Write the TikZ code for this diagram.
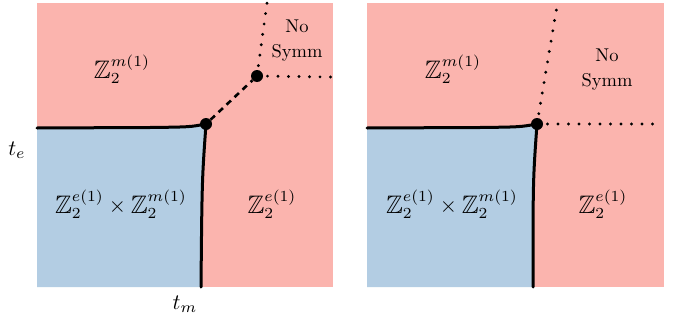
\documentclass[tikz,border=0pt]{standalone}
\usepackage{amsmath,amssymb}
\definecolor{pinkreg}{HTML}{FBB4AE}
\definecolor{bluereg}{HTML}{B3CDE3}
\newcommand{\bigZ}{\mathord{\raisebox{-0.3pt}{\scalebox{1.15}{$\mathbb{Z}$}}}}
\tikzset{
  phase/.style={line width=3pt,line cap=round},
  dotline/.style={line width=3.2pt,line cap=round,dash pattern=on 0pt off 10.5pt},
  dashline/.style={line width=2.6pt,dash pattern=on 6pt off 5pt},
  crit/.style={circle,fill=black,inner sep=0pt,minimum size=12pt},
  mlabel/.style={scale=2.2,inner sep=0pt},
  tlabel/.style={scale=1.85,align=center,inner sep=0pt},
}
\begin{document}
\begin{tikzpicture}[x=1pt,y=-1pt]
\useasboundingbox (0,0) rectangle (677,324);
% ---------- left panel ----------
\fill[pinkreg] (37,3) rectangle (333,287);
\fill[bluereg] (37,128) -- (150,127.5) .. controls (190,127) .. (205,124) .. controls (202,180) .. (201,287) -- (37,287) -- cycle;
\node[crit] (L1) at (206,124) {};
\node[crit] (L2) at (257,76) {};
\coordinate (Lw) at (37,128);
\coordinate (Ls) at (201,287);
\coordinate (Ln) at (267,3);
\coordinate (Le) at (331,77);
\draw[phase] (Lw) -- (150,127.5) .. controls (190,127) .. (L1.center);
\draw[phase] (L1.center) .. controls (202,180) .. (Ls);
\draw[dashline] (L1) -- (L2);
\draw[dotline] (L2.center) -- (Ln);
\draw[dotline] (L2.center) -- (Le);
\node[mlabel] (Lm) at (122,69) {$\bigZ_2^{m(1)}$};
\node[mlabel] (Lem) at (121,204) {$\bigZ_2^{e(1)}\times\bigZ_2^{m(1)}$};
\node[mlabel] (Le1) at (272,204) {$\bigZ_2^{e(1)}$};
\node[tlabel] (Lno) at (297,41) {No\\[1.5pt]Symm};
\node[mlabel] (te) at (17,150) {$t_e$};
\node[mlabel] (tm) at (185,304) {$t_m$};
% ---------- right panel ----------
\fill[pinkreg] (367,3) rectangle (664,287);
\fill[bluereg] (367,128) -- (480,127.5) .. controls (520,127) .. (536,124) .. controls (533,180) .. (533,287) -- (367,287) -- cycle;
\node[crit] (R1) at (537,124) {};
\coordinate (Rw) at (367,128);
\coordinate (Rs) at (533,287);
\coordinate (Rn) at (557,6);
\coordinate (Re) at (658,124);
\draw[phase] (Rw) -- (480,127.5) .. controls (520,127) .. (R1.center);
\draw[phase] (R1.center) .. controls (533,180) .. (Rs);
\draw[dotline] (R1.center) -- (Rn);
\draw[dotline] (R1.center) -- (Re);
\node[mlabel] (Rm) at (453,69) {$\bigZ_2^{m(1)}$};
\node[mlabel] (Rem) at (452,204) {$\bigZ_2^{e(1)}\times\bigZ_2^{m(1)}$};
\node[mlabel] (Re1) at (603,204) {$\bigZ_2^{e(1)}$};
\node[tlabel] (Rno) at (607,70) {No\\[1.5pt]Symm};
\end{tikzpicture}
\end{document}
